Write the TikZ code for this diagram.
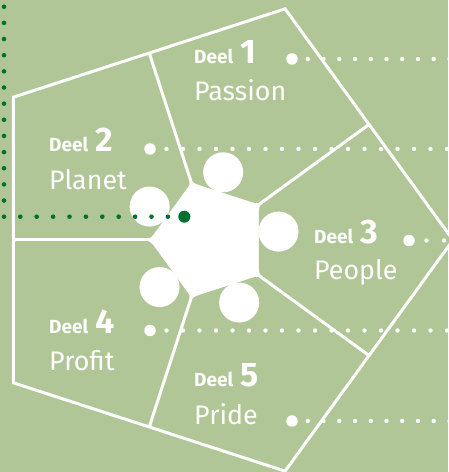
\documentclass[tikz,border=0pt]{standalone}
\usepackage{fontspec}
\setmainfont{Fira Sans}
\usetikzlibrary{calc}
\definecolor{bg}{RGB}{176,198,150}
\definecolor{dkgreen}{RGB}{0,112,46}
\newcommand\mydeel{\fontsize{19}{20}\selectfont\bfseries}
\newcommand\mynum{\fontsize{34}{35}\selectfont\bfseries}
\newcommand\myword{\fontsize{26.8}{28}\selectfont}
\begin{document}
\begin{tikzpicture}[x=1pt,y=1pt,
  cell/.style={fill=bg, rounded corners=6pt},
  wline/.style={draw=white, line width=3pt, line join=miter},
  wdots/.style={draw=white, line width=4.4pt, line cap=round},
  kdots/.style={draw=dkgreen, line width=4.6pt, line cap=round},
  bigw/.style={circle, fill=white, inner sep=0pt, minimum size=11.5pt},
  bigk/.style={circle, fill=dkgreen, inner sep=0pt, minimum size=12pt},
  deel/.style={anchor=base west, inner sep=0pt, text=white},
  word/.style={anchor=base west, inner sep=0pt, text=white, font=\myword}]
\fill[bg] (0,0) rectangle (448,472);
\useasboundingbox (0,0) rectangle (448,472);
\begin{scope}[shift={(210,232)}]
  \foreach \a in {0,72,144,216,288} {\coordinate (V\a) at (\a:243);}
  \foreach \a in {36,108,180,252,324} {\coordinate (M\a) at (\a:196.6); \coordinate (I\a) at (\a:60.5);}
  \fill[white] (V0)--(V72)--(V144)--(V216)--(V288)--cycle;
  \fill[cell] (I108)--(M108)--(V72)--(M36)--(I36)--cycle;
  \fill[cell] (I36)--(M36)--(V0)--(M324)--(I324)--cycle;
  \fill[cell] (I324)--(M324)--(V288)--(M252)--(I252)--cycle;
  \fill[cell] (I252)--(M252)--(V216)--(M180)--(I180)--cycle;
  \fill[cell] (I180)--(M180)--(V144)--(M108)--(I108)--cycle;
  \draw[wline] (V0)--(V72)--(V144)--(V216)--(V288)--cycle;
  \foreach \a in {36,108,180,252,324} {\draw[wline] (I\a)--(M\a);}
  \foreach \a in {7,79,151,223,295} {\fill[white] (\a:69) circle[radius=20pt];}
\end{scope}
% white dotted rows
\node[bigw] (b1) at (292,413) {};
\node[bigw] (b2) at (150,323) {};
\node[bigw] (b3) at (409,231.5) {};
\node[bigw] (b4) at (150,141.5) {};
\node[bigw] (b5) at (292,51) {};
\coordinate (e1) at (452,413);
\coordinate (e2) at (452,323);
\coordinate (e3) at (452,231.5);
\coordinate (e4) at (452,141.5);
\coordinate (e5) at (452,51);
\draw[wdots, dash pattern=on 0pt off 15.75pt] (b1.center) -- (e1);
\draw[wdots, dash pattern=on 0pt off 16.5pt] (b2.center) -- (e2);
\draw[wdots, dash pattern=on 0pt off 17.5pt] (b3.center) -- (e3);
\draw[wdots, dash pattern=on 0pt off 16.5pt] (b4.center) -- (e4);
\draw[wdots, dash pattern=on 0pt off 15.75pt] (b5.center) -- (e5);
% dark green dotted line
\node[bigk] (hub) at (184.3,255.3) {};
\coordinate (kc) at (4,255.3);
\coordinate (kt) at (4,472);
\draw[kdots, dash pattern=on 0pt off 16.4pt] (hub.center) -- (kc);
\draw[kdots, dash pattern=on 0pt off 16.15pt] (kc) -- (kt);
% labels
\node[deel] (d1) at (194,408.7) {{\mydeel Deel}\hspace{7pt}{\mynum 1}};
\node[word] (w1) at (194,371.3) {Passion};
\node[deel] (d2) at (49,320.3) {{\mydeel Deel}\hspace{7pt}{\mynum 2}};
\node[word] (w2) at (49,282) {Planet};
\node[deel] (d3) at (314,228.7) {{\mydeel Deel}\hspace{7pt}{\mynum 3}};
\node[word] (w3) at (314,192) {People};
\node[deel] (d4) at (49,138.7) {{\mydeel Deel}\hspace{7pt}{\mynum 4}};
\node[word] (w4) at (49,101.3) {Profit};
\node[deel] (d5) at (194,85.3) {{\mydeel Deel}\hspace{7pt}{\mynum 5}};
\node[word] (w5) at (194,47) {Pride};
\end{tikzpicture}
\end{document}
